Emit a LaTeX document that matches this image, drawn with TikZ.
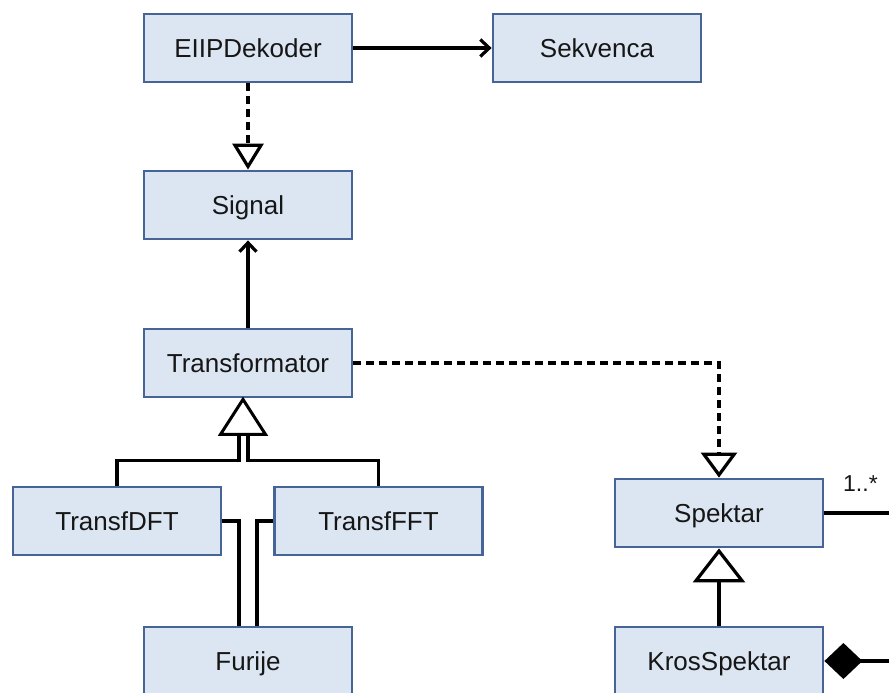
\documentclass[tikz,border=0pt]{standalone}
\usepackage{fontspec}
\setmainfont{Liberation Sans}
\usetikzlibrary{arrows.meta,calc}
\definecolor{boxfill}{RGB}{220,230,242}
\definecolor{boxline}{RGB}{70,100,150}
\definecolor{txt}{RGB}{22,22,22}
\tikzset{
  cls/.style={draw=boxline, fill=boxfill, line width=2.8pt, minimum width=208pt,
    minimum height=68pt, inner sep=0pt, text=txt, text height=19pt, text depth=0pt,
    font=\fontsize{26}{30}\selectfont},
  conn/.style={draw=black, line width=3.2pt},
  dashconn/.style={conn, dash pattern=on 8pt off 5pt},
  barb/.style={-{Straight Barb[length=9pt,width=17pt]}},
  opentri/.style={fill=white, draw=black, line width=3pt, line join=miter},
}
\begin{document}
\begin{tikzpicture}[x=1pt,y=-1pt]
\clip (0,0) rectangle (889,693);
\fill[white] (0,0) rectangle (889,693);

\node[cls] (dek) at (248,48) {EIIPDekoder};
\node[cls] (sek) at (597,48) {Sekvenca};
\node[cls] (sig) at (248,205) {Signal};
\node[cls] (tr) at (248,363) {Transformator};
\node[cls] (dft) at (117,521) {TransfDFT};
\node[cls] (fft) at (378.5,521) {TransfFFT};
\node[cls] (fur) at (248,661) {Furije};
\node[cls] (spk) at (719,513) {Spektar};
\node[cls] (kros) at (719,661) {KrosSpektar};

% association EIIPDekoder -> Sekvenca
\draw[conn,barb] (dek) -- (sek);
% realization EIIPDekoder -> Signal
\draw[dashconn,-{Triangle[open,length=26pt,width=31pt]}] (dek) -- (sig);
% association Transformator -> Signal
\draw[conn,barb] (tr) -- (sig);
% dependency Transformator -> Spektar
\draw[dashconn,-{Triangle[open,length=25pt,width=36pt]}] (tr.east) -| (spk.north);

% generalization TransfDFT/TransfFFT -> Transformator
\coordinate (gtip) at ($(tr.south)+(-5,1)$);
\coordinate (gbase) at ($(gtip)+(0,35)$);
\draw[conn] (dft.north) |- ($(gbase)+(-4,26)$) -- ($(gbase)+(-4,0)$);
\draw[conn] (fft.north) |- ($(gbase)+(5,26)$) -- ($(gbase)+(5,0)$);
\draw[opentri] (gtip) -- ($(gbase)+(-22.5,0)$) -- ($(gbase)+(22.5,0)$) -- cycle;

% Furije associations
\draw[conn] (dft.east) -| ($(fur.north)+(-9,0)$);
\draw[conn] (fft.west) -| ($(fur.north)+(9,0)$);

% Spektar association to the right
\coordinate (e1) at (889,513);
\draw[conn] (spk.east) -- (e1);
\node[text=txt, font=\fontsize{23}{26}\selectfont, anchor=south west, inner sep=0pt] (m1) at (843,492) {1..*};

% KrosSpektar composition
\coordinate (e2) at (889,661);
\draw[conn,{Diamond[length=38pt,width=36pt,fill=black]}-] (kros.east) -- (e2);

% generalization KrosSpektar -> Spektar
\draw[conn,-{Triangle[open,length=34pt,width=52pt]}] (kros) -- (spk);
\end{tikzpicture}
\end{document}
